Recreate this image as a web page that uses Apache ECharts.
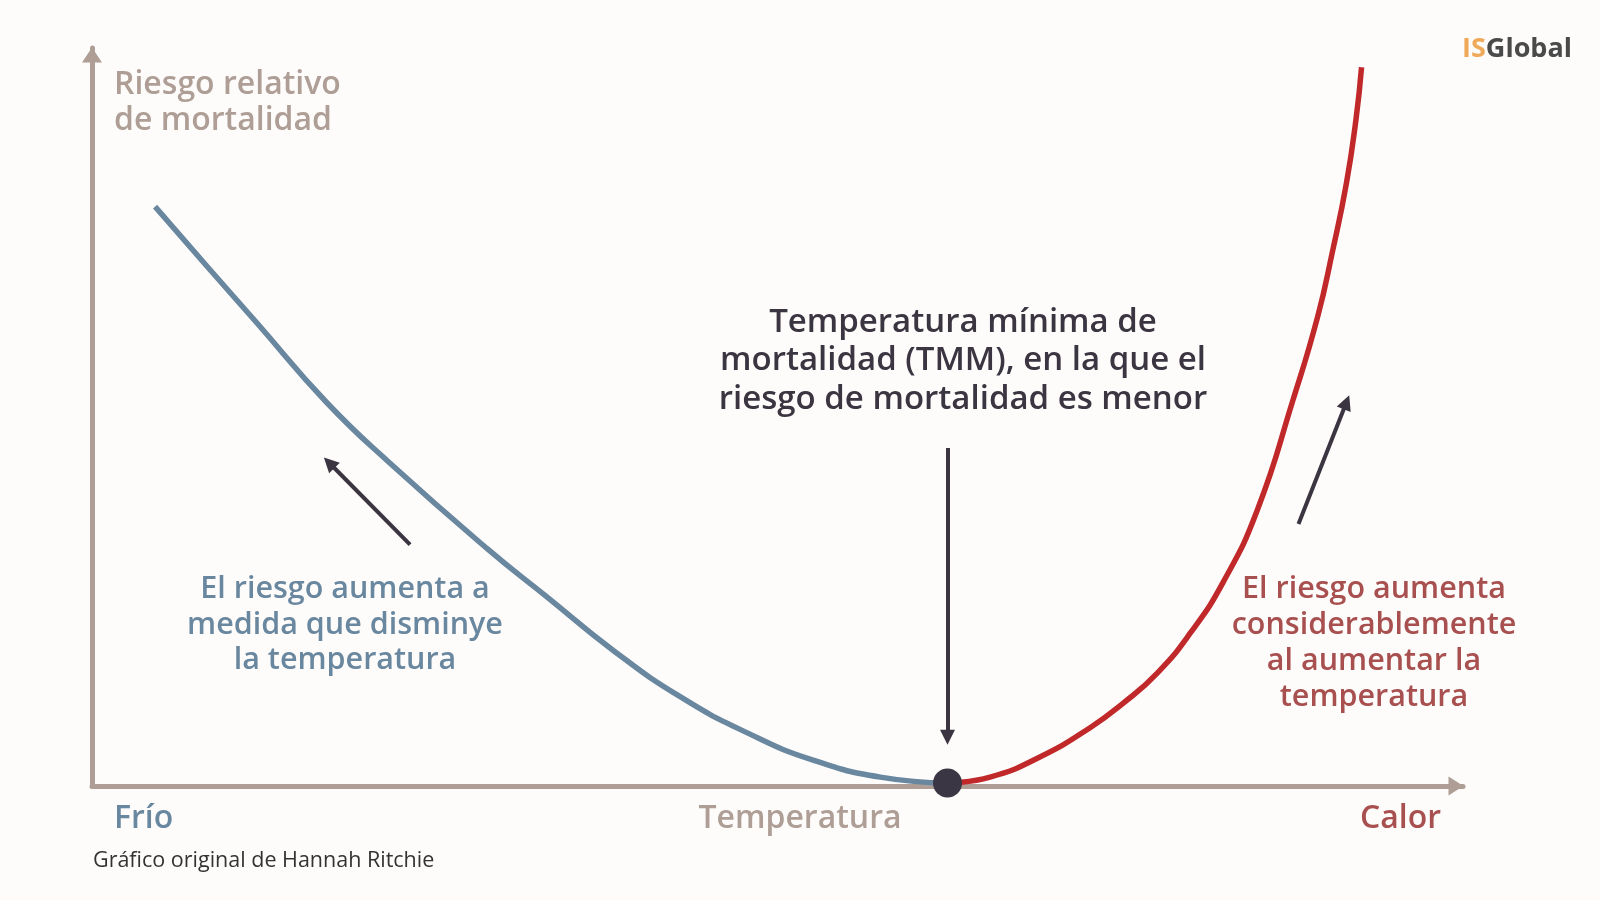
<!DOCTYPE html>
<html>
<head>
<meta charset="utf-8">
<title>Riesgo relativo de mortalidad</title>
<script src="https://cdn.jsdelivr.net/npm/echarts@6/dist/echarts.min.js"></script>
<style>
	html,body{margin:0;padding:0;background:#fdfcfa;}
	#chartTmm{width:1600px;height:900px;}
</style>
</head>
<body>
<div id="chartTmm"></div>
<script>
	// curva fría (azul): [temperatura, riesgo], 0-100 en ambos ejes
	var coldCurve = [
		[4.6, 78.5], [8.4, 70.4], [12.0, 62.8], [17.1, 52.0], [21.7, 43.8],
		[28.8, 32.2], [33.2, 25.6], [38.0, 18.4], [42.9, 12.1], [47.8, 7.2],
		[52.6, 3.5], [57.5, 1.2], [62.4, 0.4]
	];
	// curva cálida (roja)
	var hotCurve = [
		[62.4, 0.4], [65.5, 1.2], [69.1, 3.9], [72.8, 7.9], [75.2, 11.2],
		[77.7, 15.3], [80.1, 20.7], [82.5, 27.6], [85.0, 37.4], [87.6, 52.3],
		[89.4, 63.6], [90.5, 72.6], [91.5, 81.7], [92.2, 90.4], [92.6, 97.4]
	];
	// punto TMM
	var tmmPoint = [62.4, 0.4];
	// flechas [desde, hasta]
	var arrows = [
		[[23.2, 32.7], [17.3, 43.8]],
		[[62.4, 45.8], [62.4, 6.6]],
		[[88.0, 35.5], [91.5, 52.0]]
	];
	// textos
	var yTitle = 'Riesgo relativo\nde mortalidad';
	var tmmText = 'Temperatura mínima de\nmortalidad (TMM), en la que el\nriesgo de mortalidad es menor';
	var coldText = 'El riesgo aumenta a\nmedida que disminye\nla temperatura';
	var hotText = 'El riesgo aumenta\nconsiderablemente\nal aumentar la\ntemperatura';
	var xLabels = ['Frío', 'Temperatura', 'Calor'];
	var credit = 'Gráfico original de Hannah Ritchie';

	var font = "'Open Sans', sans-serif";
	var axisColor = '#ae9e96';
	var coldColor = '#6a87a0';
	var hotColor = '#a8504f';
	var darkColor = '#3a3541';

	var myChart = echarts.init(document.getElementById('chartTmm'));

	var arrowData = [];
	for (var i = 0; i < arrows.length; i++) {
		arrowData.push({coords: arrows[i]});
	}

	var option = {
		backgroundColor: '#fdfcfa',
		animation: false,
		grid: {
			left: 92,
			right: 137,
			top: 48,
			bottom: 114
		},
		xAxis: {
			type: 'value',
			min: 0,
			max: 100,
			axisLine: {
				onZero: false,
				symbol: ['none', 'triangle'],
				symbolSize: [19, 15],
				symbolOffset: [0, -7],
				lineStyle: {color: axisColor, width: 5}
			},
			axisTick: {show: false},
			axisLabel: {show: false},
			splitLine: {show: false}
		},
		yAxis: {
			type: 'value',
			min: 0,
			max: 100,
			axisLine: {
				show: true,
				symbol: ['none', 'triangle'],
				symbolSize: [20, 15],
				symbolOffset: [0, -7],
				lineStyle: {color: axisColor, width: 5}
			},
			axisTick: {show: false},
			axisLabel: {show: false},
			splitLine: {show: false}
		},
		series: [
			{
				name: 'Frío',
				type: 'line',
				data: coldCurve,
				smooth: 0.5,
				symbol: 'none',
				lineStyle: {color: coldColor, width: 5.5, cap: 'butt'},
				z: 3
			},
			{
				name: 'Calor',
				type: 'line',
				data: hotCurve,
				smooth: 0.5,
				symbol: 'none',
				lineStyle: {color: '#c0282a', width: 5.5, cap: 'butt'},
				z: 3
			},
			{
				name: 'Flechas',
				type: 'lines',
				coordinateSystem: 'cartesian2d',
				data: arrowData,
				symbol: ['none', 'triangle'],
				symbolSize: 15,
				lineStyle: {color: darkColor, width: 4, opacity: 1, curveness: 0},
				z: 4
			},
			{
				name: 'TMM',
				type: 'scatter',
				data: [tmmPoint],
				symbolSize: 29,
				itemStyle: {color: '#3b3644', opacity: 1},
				z: 5
			}
		],
		graphic: [
			{
				type: 'text', left: 114, top: 67,
				style: {text: yTitle, font: '600 32px ' + font, fill: axisColor, lineHeight: 36}
			},
			{
				type: 'text', x: 963, y: 361,
				style: {text: tmmText, font: '600 33px ' + font, fill: darkColor, lineHeight: 38.5, align: 'center', verticalAlign: 'middle'}
			},
			{
				type: 'text', x: 345, y: 625,
				style: {text: coldText, font: '600 30.5px ' + font, fill: coldColor, lineHeight: 35.5, align: 'center', verticalAlign: 'middle'}
			},
			{
				type: 'text', x: 1374, y: 643,
				style: {text: hotText, font: '600 30.5px ' + font, fill: hotColor, lineHeight: 36, align: 'center', verticalAlign: 'middle'}
			},
			{
				type: 'text', x: 114, y: 819,
				style: {text: xLabels[0], font: '600 32px ' + font, fill: coldColor, align: 'left', verticalAlign: 'middle'}
			},
			{
				type: 'text', x: 800, y: 819,
				style: {text: xLabels[1], font: '600 32px ' + font, fill: axisColor, align: 'center', verticalAlign: 'middle'}
			},
			{
				type: 'text', x: 1441, y: 819,
				style: {text: xLabels[2], font: '600 32px ' + font, fill: hotColor, align: 'right', verticalAlign: 'middle'}
			},
			{
				type: 'text', x: 93, y: 861,
				style: {text: credit, font: '400 21.5px ' + font, fill: '#333333', align: 'left', verticalAlign: 'middle'}
			},
			{
				type: 'text', x: 1572, y: 49,
				style: {
					text: '{a|IS}{b|Global}',
					align: 'right', verticalAlign: 'middle',
					rich: {
						a: {font: '700 27px ' + font, fill: '#f0a959', color: '#f0a959'},
						b: {font: '700 27px ' + font, fill: '#4a4a4a', color: '#4a4a4a'}
					}
				}
			}
		]
	};
	myChart.setOption(option);
</script>
</body>
</html>
